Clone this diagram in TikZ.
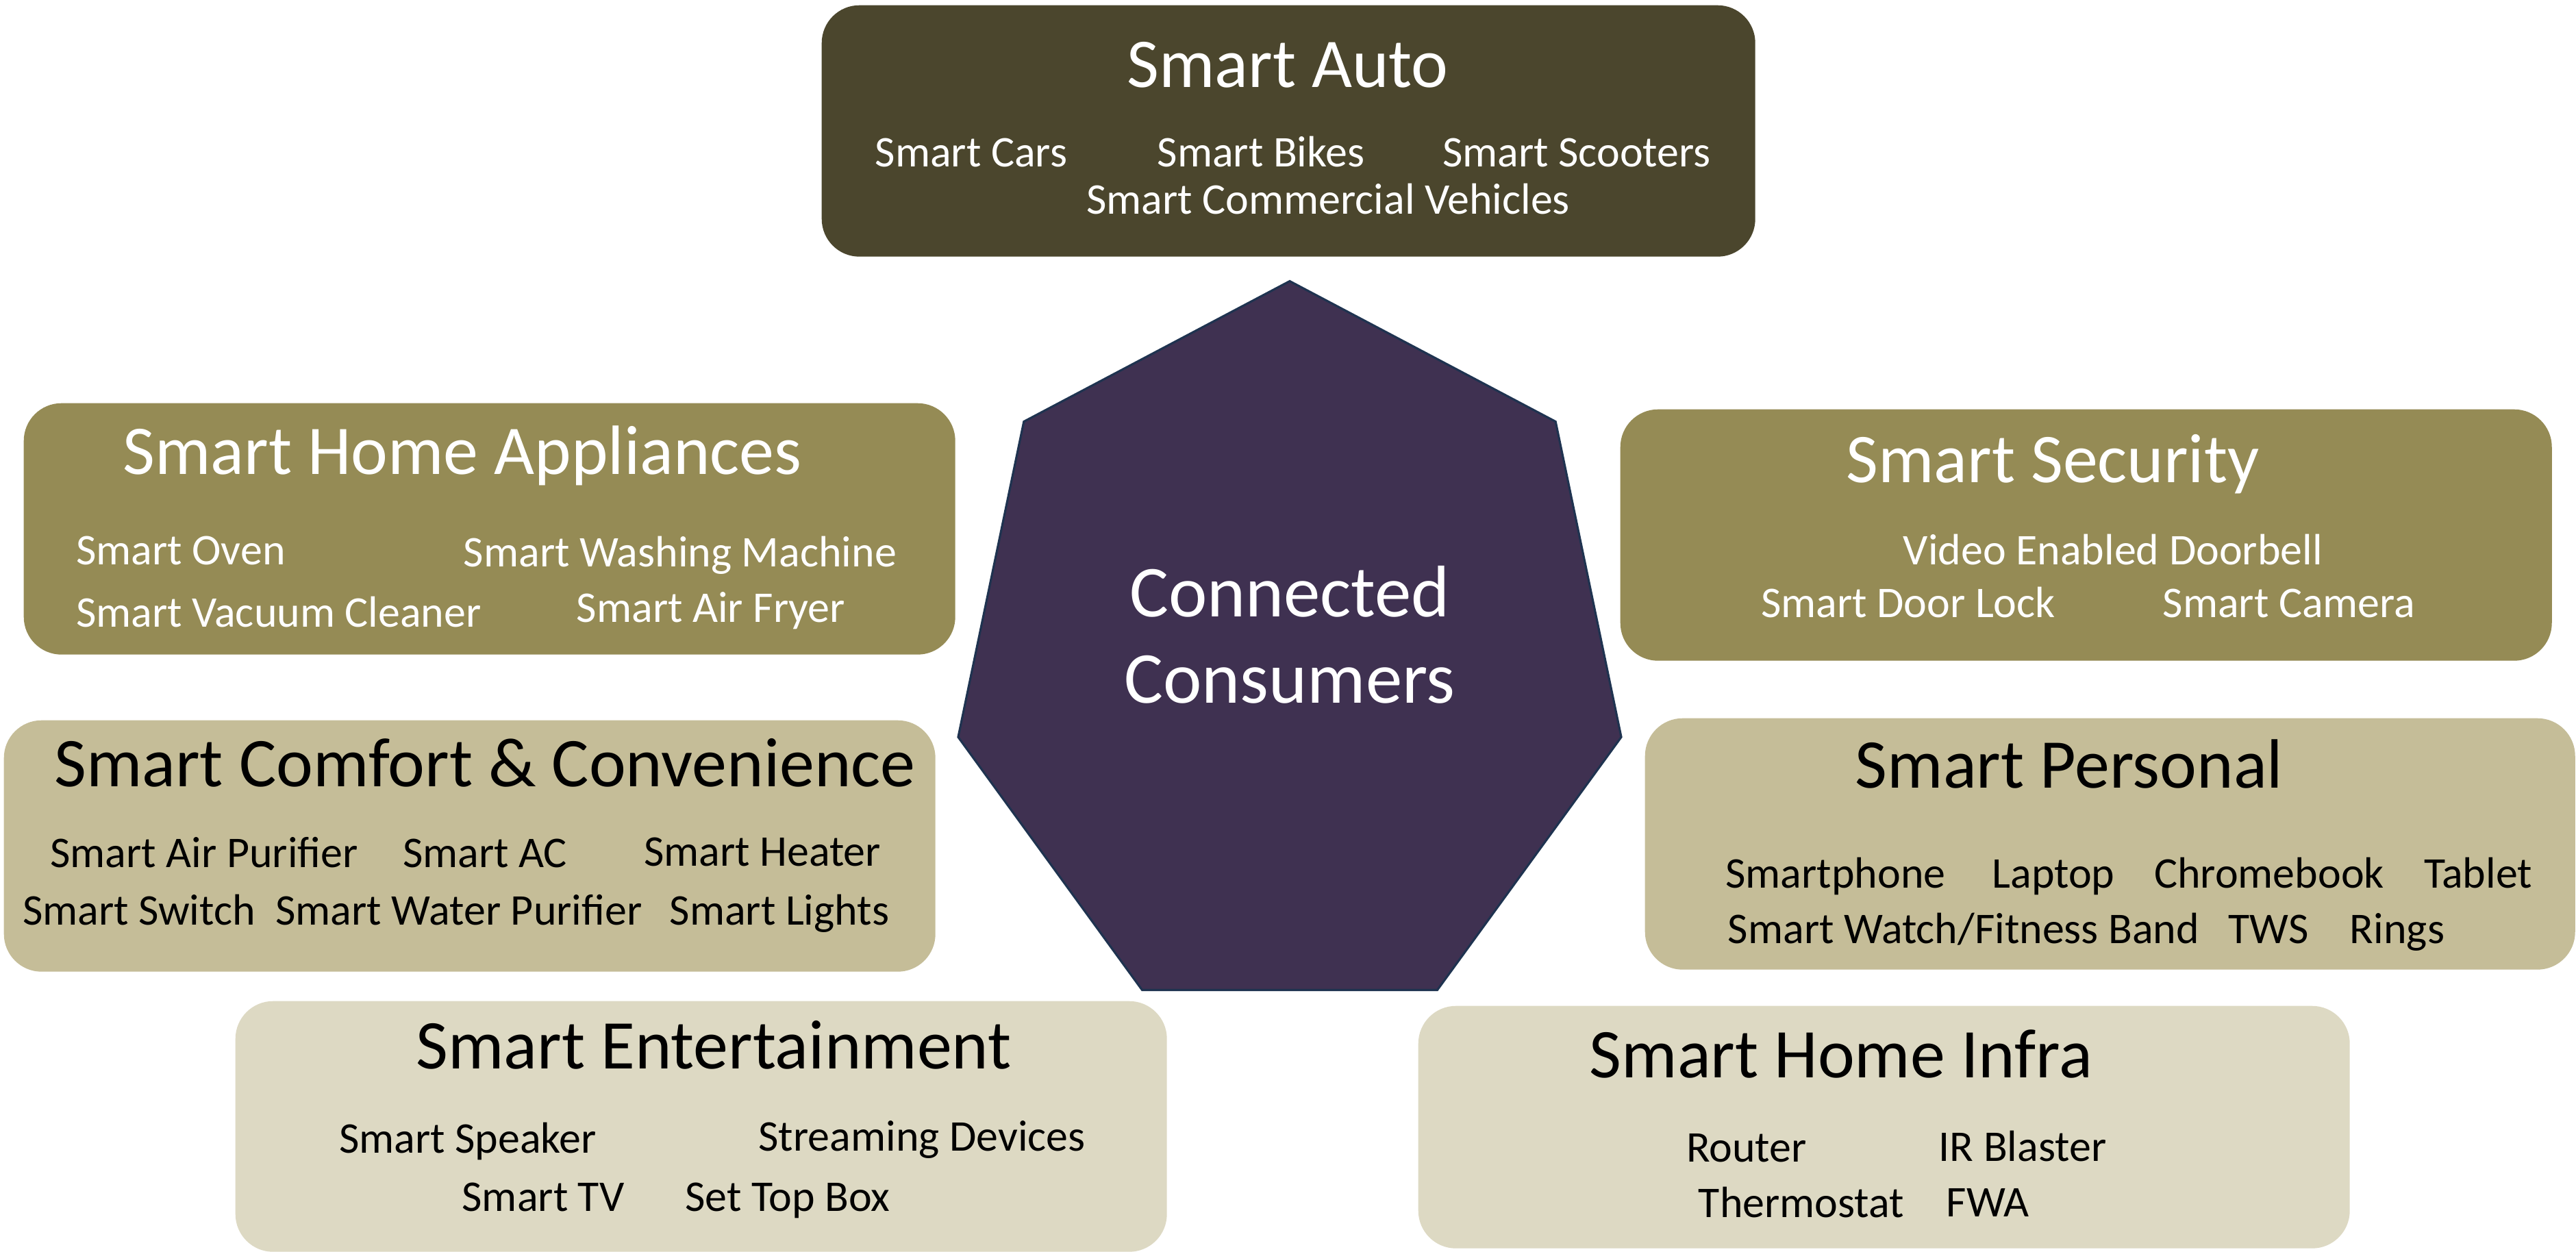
\documentclass[tikz,border=0pt]{standalone}
\usepackage{fontspec}
\setmainfont{Carlito}
\definecolor{autocol}{HTML}{4B462D}
\definecolor{midcol}{HTML}{958B55}
\definecolor{lightcol}{HTML}{C5BD98}
\definecolor{palecol}{HTML}{DDD9C3}
\definecolor{heptfill}{HTML}{3F3151}
\definecolor{heptline}{HTML}{1F3350}
\begin{document}
\begin{tikzpicture}[
catbox/.style={
    rectangle,
    rounded corners=0.55cm,
    anchor=north west,
    inner sep=0pt,
    minimum width=13.6cm,
    minimum height=3.67cm},
cattitle/.style={
    anchor=base,
    inner sep=0pt,
    font=\fontsize{29}{34}\selectfont},
catitem/.style={
    anchor=base,
    inner sep=0pt,
    font=\fontsize{18.2}{22}\selectfont},
hepta/.style={
    fill=heptfill,
    draw=heptline,
    line width=0.9pt,
    line join=miter}
]

\useasboundingbox (0,0) rectangle (37.61,-18.27);

%\draw (0,0) rectangle (37.61,-18.27);

% boxes
\node (autobox) at (11.99 cm, -0.07 cm) [catbox, fill=autocol, minimum width=13.63cm] {};
\node (applbox) at (0.34 cm, -5.88 cm) [catbox, fill=midcol] {};
\node (secbox) at (23.65 cm, -5.97 cm) [catbox, fill=midcol] {};
\node (comfbox) at (0.05 cm, -10.51 cm) [catbox, fill=lightcol] {};
\node (persbox) at (24.01 cm, -10.48 cm) [catbox, fill=lightcol, minimum width=13.58cm] {};
\node (entbox) at (3.43 cm, -14.61 cm) [catbox, fill=palecol, minimum height=3.66cm] {};
\node (infrabox) at (20.70 cm, -14.68 cm) [catbox, fill=palecol, minimum height=3.54cm] {};

% centre heptagon
\foreach \i in {0,...,6}
    \coordinate (h\i) at ({18.83+4.965*cos(90+\i*360/7)}, {-9.55+5.445*sin(90+\i*360/7)});
\draw[hepta] (h0) -- (h1) -- (h2) -- (h3) -- (h4) -- (h5) -- (h6) -- cycle;
\node (ccline1) at (18.83 cm, -9.00 cm) [anchor=base, inner sep=0pt, text=white, font=\fontsize{30.4}{36}\selectfont] {Connected};
\node (ccline2) at (18.83 cm, -10.26 cm) [anchor=base, inner sep=0pt, text=white, font=\fontsize{30.4}{36}\selectfont] {Consumers};

% Smart Auto
\node (autotitle) at (18.80 cm, -1.27 cm) [cattitle, text=white] {Smart Auto};
\node (autocars) at (14.18 cm, -2.43 cm) [catitem, text=white] {Smart Cars};
\node (autobikes) at (18.41 cm, -2.43 cm) [catitem, text=white] {Smart Bikes};
\node (autoscoot) at (23.02 cm, -2.43 cm) [catitem, text=white] {Smart Scooters};
\node (autocomm) at (19.39 cm, -3.12 cm) [catitem, text=white] {Smart Commercial Vehicles};

% Smart Home Appliances
\node (appltitle) at (6.75 cm, -6.92 cm) [cattitle, text=white] {Smart Home Appliances};
\node (apploven) at (2.64 cm, -8.24 cm) [catitem, text=white] {Smart Oven};
\node (applwash) at (9.93 cm, -8.27 cm) [catitem, text=white] {Smart Washing Machine};
\node (applvac) at (4.07 cm, -9.15 cm) [catitem, text=white] {Smart Vacuum Cleaner};
\node (applfry) at (10.38 cm, -9.08 cm) [catitem, text=white] {Smart Air Fryer};

% Smart Security
\node (sectitle) at (29.97 cm, -7.04 cm) [cattitle, text=white] {Smart Security};
\node (secbell) at (30.85 cm, -8.24 cm) [catitem, text=white] {Video Enabled Doorbell};
\node (seclock) at (27.86 cm, -9.01 cm) [catitem, text=white] {Smart Door Lock};
\node (seccam) at (33.42 cm, -9.01 cm) [catitem, text=white] {Smart Camera};

% Smart Comfort & Convenience
\node (comftitle) at (7.08 cm, -11.48 cm) [cattitle] {Smart Comfort \& Convenience};
\node (comfair) at (2.98 cm, -12.66 cm) [catitem] {Smart Air Purifier};
\node (comfac) at (7.08 cm, -12.66 cm) [catitem] {Smart AC};
\node (comfheat) at (11.13 cm, -12.64 cm) [catitem] {Smart Heater};
\node (comfswitch) at (2.03 cm, -13.50 cm) [catitem] {Smart Switch};
\node (comfwater) at (6.70 cm, -13.50 cm) [catitem] {Smart Water Purifier};
\node (comflight) at (11.38 cm, -13.50 cm) [catitem] {Smart Lights};

% Smart Personal
\node (perstitle) at (30.21 cm, -11.50 cm) [cattitle] {Smart Personal};
\node (persphone) at (26.80 cm, -12.96 cm) [catitem] {Smartphone};
\node (perslap) at (29.98 cm, -12.96 cm) [catitem] {Laptop};
\node (perschrome) at (33.13 cm, -12.96 cm) [catitem] {Chromebook};
\node (perstab) at (36.18 cm, -12.96 cm) [catitem] {Tablet};
\node (perswatch) at (28.67 cm, -13.77 cm) [catitem] {Smart Watch/Fitness Band};
\node (perstws) at (33.12 cm, -13.77 cm) [catitem] {TWS};
\node (persring) at (35.00 cm, -13.77 cm) [catitem] {Rings};

% Smart Entertainment
\node (enttitle) at (10.42 cm, -15.60 cm) [cattitle] {Smart Entertainment};
\node (entspeak) at (6.83 cm, -16.83 cm) [catitem] {Smart Speaker};
\node (entstream) at (13.46 cm, -16.80 cm) [catitem] {Streaming Devices};
\node (enttv) at (7.93 cm, -17.68 cm) [catitem] {Smart TV};
\node (entstb) at (11.50 cm, -17.68 cm) [catitem] {Set Top Box};

% Smart Home Infra
\node (infratitle) at (26.88 cm, -15.73 cm) [cattitle] {Smart Home Infra};
\node (infrarout) at (25.50 cm, -16.96 cm) [catitem] {Router};
\node (infrair) at (29.53 cm, -16.95 cm) [catitem] {IR Blaster};
\node (infratherm) at (26.30 cm, -17.77 cm) [catitem] {Thermostat};
\node (infrafwa) at (29.02 cm, -17.76 cm) [catitem] {FWA};

\end{tikzpicture}
\end{document}
